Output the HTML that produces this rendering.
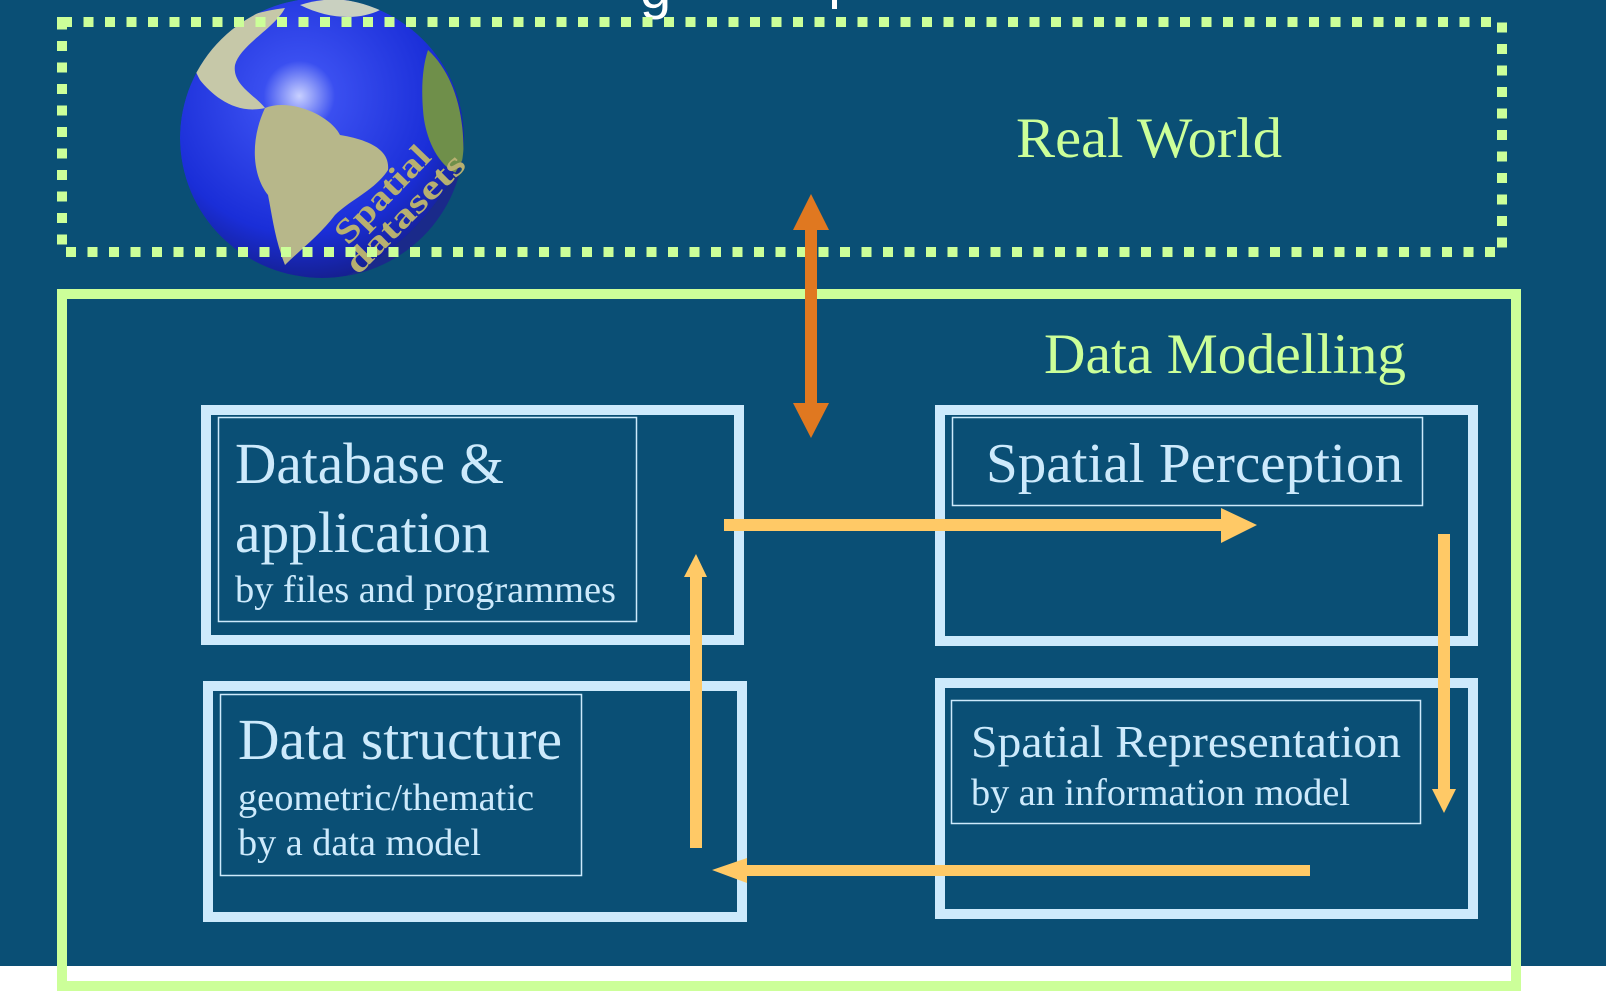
<!DOCTYPE html>
<html><head><meta charset="utf-8"><style>
html,body{margin:0;padding:0;background:#fff;}
svg{display:block;}
</style></head><body>
<svg width="1606" height="1006" viewBox="0 0 1606 1006" xmlns="http://www.w3.org/2000/svg" font-family="'Liberation Serif', serif">
<defs>
<radialGradient id="g" cx="0.42" cy="0.35" r="0.7">
<stop offset="0" stop-color="#c8d0ff"/><stop offset="0.18" stop-color="#3a4ff0"/><stop offset="0.7" stop-color="#1a2ed8"/><stop offset="1" stop-color="#141c80"/>
</radialGradient>
<clipPath id="gc"><ellipse cx="322" cy="138" rx="142" ry="140"/></clipPath>
</defs>
<rect x="0" y="0" width="1606" height="966" fill="#0a4f75"/>
<text x="640" y="8" font-family="'Liberation Sans', sans-serif" font-size="56" fill="#fff">g</text>
<rect x="832" y="0" width="5" height="9" fill="#fff"/>
<g clip-path="url(#gc)">
<ellipse cx="322" cy="138" rx="142" ry="140" fill="url(#g)"/>
<path d="M265 108 C290 98 330 115 340 135 C370 140 390 150 388 170 C375 190 350 200 335 215 C320 235 300 250 285 265 C275 240 272 215 268 195 C252 175 250 140 265 108Z" fill="#b7b78a"/>
<path d="M195 45 C220 25 250 12 285 8 C275 28 240 45 235 65 C232 85 255 95 265 108 C235 115 212 95 200 80 C192 65 188 55 195 45Z" fill="#c6c8a8"/>
<path d="M428 50 C455 75 468 120 462 175 C440 170 425 140 423 110 C421 85 423 65 428 50Z" fill="#6f8f4a"/>
<path d="M300 5 C330 -5 360 0 380 10 C360 20 330 20 300 5Z" fill="#c9d0c0"/>
<path d="M330 282 C390 262 440 212 472 140 L472 292 Z" fill="#1a2a8a"/>
</g>
<text x="0" y="0" font-size="34" font-weight="bold" fill="#b7b070" textLength="122" lengthAdjust="spacingAndGlyphs" transform="translate(348 246) rotate(-46)">Spatial</text>
<text x="0" y="0" font-size="34" font-weight="bold" fill="#b7b070" textLength="155" lengthAdjust="spacingAndGlyphs" transform="translate(358 276) rotate(-45)">datasets</text>
<rect x="62" y="22" width="1440" height="230" fill="none" stroke="#ccff99" stroke-width="10" stroke-dasharray="10 11.5"/>
<text x="1016" y="157" font-size="57" fill="#ccff99" textLength="266" lengthAdjust="spacingAndGlyphs">Real World</text>
<rect x="62" y="294" width="1454" height="692" fill="none" stroke="#ccff99" stroke-width="10"/>
<text x="1044" y="373" font-size="57" fill="#ccff99" textLength="362" lengthAdjust="spacingAndGlyphs">Data Modelling</text>
<g fill="none" stroke="#cdeafc">
<rect x="206" y="410" width="533" height="230" stroke-width="10"/>
<rect x="218.5" y="417.5" width="418" height="204" stroke-width="1.5"/>
<rect x="208" y="686" width="534" height="231" stroke-width="10"/>
<rect x="220.5" y="694.5" width="361" height="181" stroke-width="1.5"/>
<rect x="940" y="410" width="533" height="231" stroke-width="10"/>
<rect x="952.5" y="417.5" width="470" height="88" stroke-width="1.5"/>
<rect x="940" y="683" width="533" height="231" stroke-width="10"/>
<rect x="951.5" y="700.5" width="469" height="123" stroke-width="1.5"/>
</g>
<g fill="#cdeafc">
<text x="235" y="483" font-size="58" textLength="269" lengthAdjust="spacingAndGlyphs">Database &amp;</text>
<text x="235" y="552" font-size="58" textLength="255" lengthAdjust="spacingAndGlyphs">application</text>
<text x="235" y="602" font-size="38" textLength="381" lengthAdjust="spacingAndGlyphs">by files and programmes</text>
<text x="238" y="759" font-size="58" textLength="324" lengthAdjust="spacingAndGlyphs">Data structure</text>
<text x="238" y="810" font-size="38" textLength="296" lengthAdjust="spacingAndGlyphs">geometric/thematic</text>
<text x="238" y="855" font-size="38" textLength="243" lengthAdjust="spacingAndGlyphs">by a data model</text>
<text x="986" y="482" font-size="56" textLength="417" lengthAdjust="spacingAndGlyphs">Spatial Perception</text>
<text x="971" y="757" font-size="45" textLength="430" lengthAdjust="spacingAndGlyphs">Spatial Representation</text>
<text x="971" y="805" font-size="38" textLength="379" lengthAdjust="spacingAndGlyphs">by an information model</text>
</g>
<polygon points="811,194 829,230 817,230 817,403 829,403 811,438 793,403 805,403 805,230 793,230" fill="#e07820"/>
<g fill="#ffc966">
<polygon points="724,519 1221,519 1221,508 1257,525 1221,543 1221,531 724,531"/>
<polygon points="1438,534 1450,534 1450,789 1456,789 1444,813 1432,789 1438,789"/>
<polygon points="1310,865 1310,876 747,876 747,883 712,870 747,858 747,865"/>
<polygon points="690,848 690,577 684,577 696,554 707,577 702,577 702,848"/>
</g>
</svg>
</body></html>
